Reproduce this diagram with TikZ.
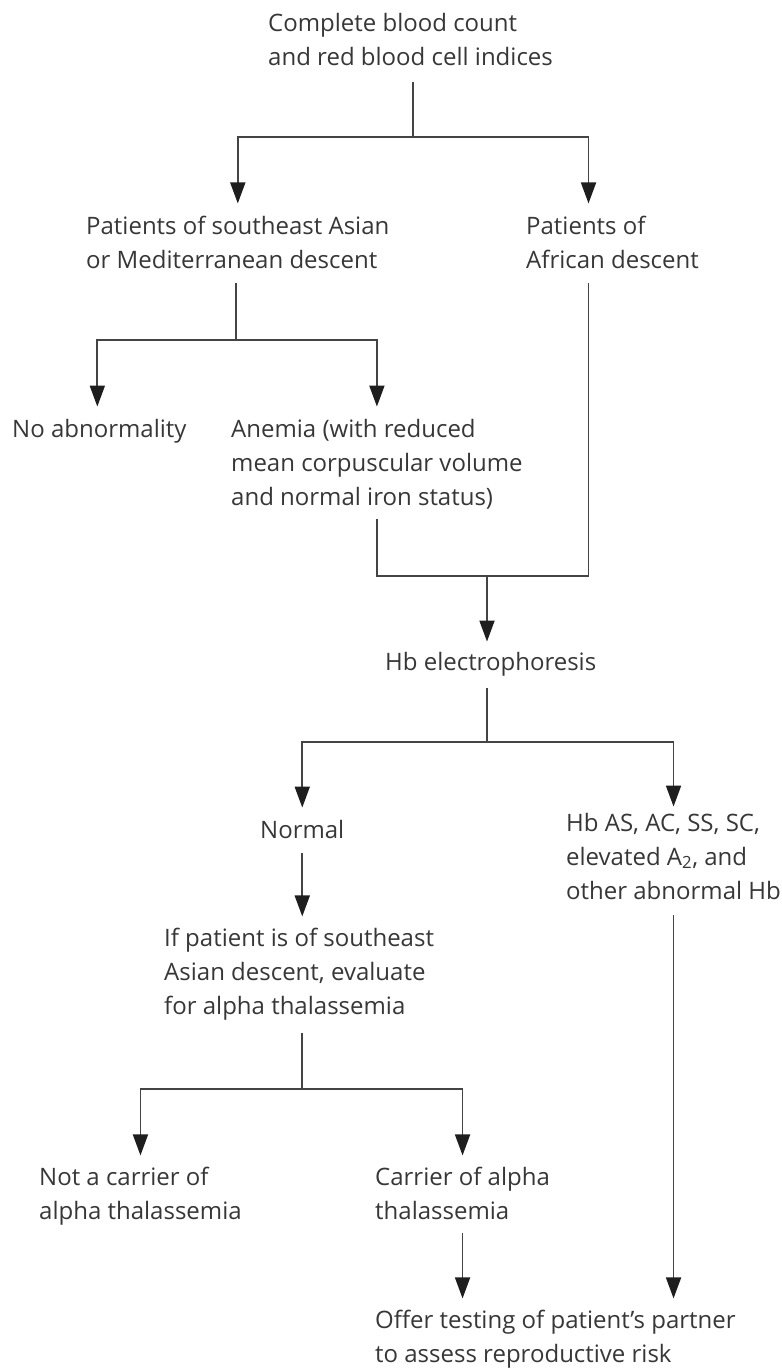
\documentclass[tikz,border=0pt]{standalone}
\usepackage{fontspec}
\setmainfont{Open Sans}
\usetikzlibrary{arrows.meta, positioning}
\definecolor{inkgray}{RGB}{55, 55, 55}
\definecolor{linegray}{RGB}{68, 68, 68}
\definecolor{tipgray}{RGB}{30, 30, 30}

\begin{document}
\begin{tikzpicture}[x=1pt, y=1pt,
    txt/.style={anchor=base west, align=left, inner sep=0pt,
      font=\fontsize{24}{34}\selectfont, text=inkgray},
    link/.style={line width=1.8pt, linegray},
    arr/.style={link, -{Triangle[length=21pt, width=15pt, color=tipgray]}}]
  \useasboundingbox (0,0) rectangle (782,-1369);

  % Screening
  \node[txt] (cbc) at (268,-65) {Complete blood count\\and red blood cell indices};

  % Descent
  \node[txt] (asian) at (86,-268) {Patients of southeast Asian\\or Mediterranean descent};
  \node[txt] (african) at (526,-268) {Patients of\\African descent};
  \coordinate (j1) at (413,-137);
  \draw[link] ([yshift=-17pt]j1 |- cbc.south) -- (j1);
  \draw[arr] (j1) -| ([yshift=12pt]asian.north);
  \draw[arr] (j1) -| ([xshift=-24pt, yshift=12pt]african.north);

  % Red cell indices
  \node[txt] (noab) at (12,-437) {No abnormality};
  \node[txt] (anemia) at (231,-505) {Anemia (with reduced\\mean corpuscular volume\\and normal iron status)};
  \coordinate (j2) at (236,-340);
  \draw[link] ([yshift=-15pt]j2 |- asian.south) -- (j2);
  \draw[arr] (j2) -| ([xshift=-2pt, yshift=12pt]noab.north);
  \draw[arr] (j2) -| ([yshift=12pt]anemia.north);

  % Electrophoresis
  \node[txt] (hbel) at (385,-670) {Hb electrophoresis};
  \coordinate (j3) at (487,-576);
  \draw[link] ([yshift=-10pt]anemia.south) |- (j3);
  \draw[link] ([xshift=-24pt, yshift=-15pt]african.south) |- (j3);
  \draw[arr] (j3) -- ([yshift=10pt]j3 |- hbel.north);

  % Results
  \node[txt] (normal) at (260,-838) {Normal};
  \node[txt] (hbas) at (566,-899) {Hb AS, AC, SS, SC,\\elevated A\textsubscript{2}, and\\other abnormal Hb};
  \coordinate (j4) at (487,-742);
  \draw[link] ([yshift=-12pt]j4 |- hbel.south) -- (j4);
  \draw[arr] (j4) -| ([yshift=12pt]normal.north);
  \draw[arr] (j4) -| ([yshift=6pt]hbas.north);

  % Alpha thalassemia
  \node[txt] (ifpat) at (164,-1014) {If patient is of southeast\\Asian descent, evaluate\\for alpha thalassemia};
  \draw[arr] ([yshift=-15pt]normal.south) -- ([yshift=11pt]normal.south |- ifpat.north);
  \node[txt] (notcar) at (39,-1219) {Not a carrier of\\alpha thalassemia};
  \node[txt] (carrier) at (375,-1219) {Carrier of alpha\\thalassemia};
  \coordinate (j5) at (302,-1089);
  \draw[link] ([yshift=-13pt]j5 |- ifpat.south) -- (j5);
  \draw[arr] (j5) -| ([yshift=11pt]notcar.north);
  \draw[arr] (j5) -| ([yshift=11pt]carrier.north);

  % Partner testing
  \node[txt] (offer) at (375,-1362) {Offer testing of patient’s partner\\to assess reproductive risk};
  \draw[arr] ([yshift=-14pt]carrier.south) -- ([yshift=11pt]carrier.south |- offer.north);
  \draw[arr] ([yshift=-16pt]hbas.south) -- ([yshift=11pt]hbas.south |- offer.north);
\end{tikzpicture}
\end{document}
